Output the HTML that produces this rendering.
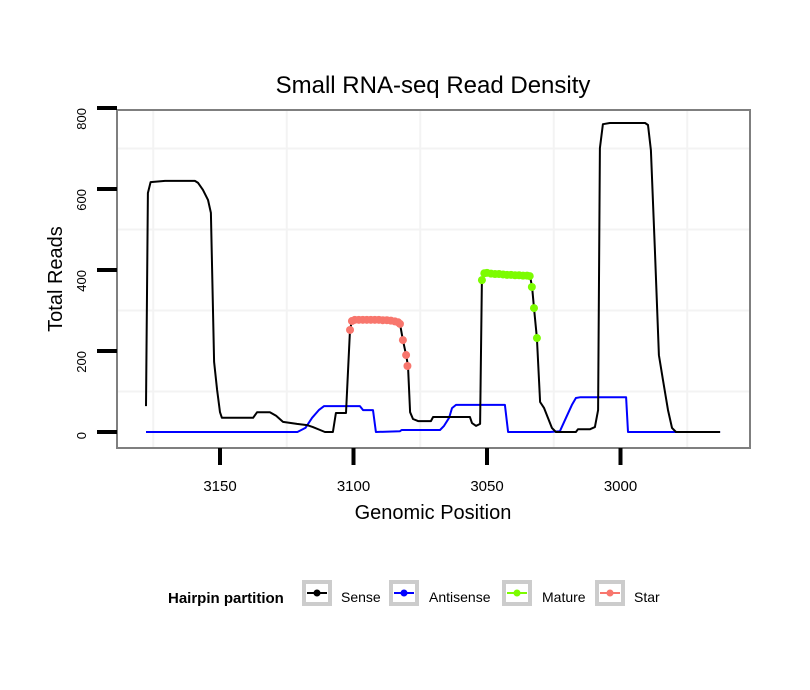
<!DOCTYPE html>
<html><head><meta charset="utf-8"><style>
body{margin:0;background:#fff}
svg{display:block;font-family:"Liberation Sans",sans-serif}
</style></head><body>
<svg id="chart" width="810" height="690">
<text x="433" y="93" font-size="24" text-anchor="middle">Small RNA-seq Read Density</text>
<rect x="117" y="110" width="633" height="338" fill="#fff"/>
<g id="grid"></g>
<g id="series"></g>
<rect x="117" y="110" width="633" height="338" fill="none" stroke="#7f7f7f" stroke-width="2"/>
<g id="axes"></g>
<text x="433" y="519" font-size="20" text-anchor="middle">Genomic Position</text>
<text transform="translate(62,279) rotate(-90)" font-size="20" text-anchor="middle">Total Reads</text>
<g>
<text x="168" y="603" font-size="15" font-weight="bold">Hairpin partition</text>
<g id="legend"></g>
</g>
</svg>
<script>
const sensePos=[3177.7,3177,3176,3170.6,3159.4,3158.2,3156.4,3154.5,3153.4,3152.2,3151.1,3150,3149.3,3137.6,3136.1,3131.3,3129,3126.4,3121.2,3117.4,3115.2,3112.5,3110.7,3107.7,3106.6,3102.8,3101.3,3100.6,3097.6,3084.5,3082.6,3081.5,3080.3,3079.6,3078.8,3077.7,3075.8,3071,3070.2,3064.6,3056.4,3055.6,3054.1,3052.6,3051.9,3050.7,3045.1,3033.9,3033.1,3032.4,3031.3,3030.1,3028.6,3027.2,3025.7,3024.2,3016.7,3015.9,3011.4,3009.6,3008.4,3007.7,3006.6,3004,2996.5,2990.8,2989.7,2988.6,2987.1,2985.6,2984.1,2982.2,2980.7,2979.2,2962.7];
const senseVal=[64,590,617,620,620,615,598,573,541,173,104,49,35,35,49,49,40,25,20,17,12,5,0,0,47,47,252,274,277,277,267,227,190,163,49,32,27,27,37,37,37,22,15,20,375,393,390,385,358,306,232,74,59,35,10,0,0,7,7,12,54,701,760,763,763,763,758,696,449,190,128,54,10,0,0];
const antiPos=[3177.7,3121,3118,3115.5,3113,3111,3097.6,3096.4,3092.7,3091.6,3082.6,3082,3067.6,3066.1,3064.2,3063.1,3061.6,3043.3,3042.1,3026.4,3022.7,3020.4,3018.2,3016.7,3015,2997.9,2997.2,2962.7];
const antiVal=[0,0,10,35,54,64,64,54,54,0,2,5,5,15,35,59,67,67,0,0,2,35,67,84,86,86,0,0];
const starPos=[3101.3,3100.6,3099.5,3098,3096.5,3095,3093.5,3092,3090.5,3089,3087.5,3086,3084.5,3083.3,3082.6,3081.5,3080.3,3079.8];
const starVal=[252,274,277,277,277,277,277,277,277,276,276,275,273,271,267,227,190,163];
const maturePos=[3051.9,3051,3050,3048.5,3047,3045.5,3044,3042.5,3041,3039.5,3038,3036.5,3035,3034,3033.2,3032.4,3031.3];
const matureVal=[375,392,393,391,390,390,389,388,388,387,387,386,386,385,358,306,232];
const xTicks=[3150,3100,3050,3000];
const yTicks=[0,200,400,600,800];
const xGrid=[3175,3125,3075,3025,2975];
const yGrid=[100,300,500,700];

const NS="http://www.w3.org/2000/svg";
const X=p=>220+(3150-p)*2.67;
const Y=v=>432-v*0.405;
function mk(tag,attrs,parent){const e=document.createElementNS(NS,tag);for(const k in attrs)e.setAttribute(k,attrs[k]);parent.appendChild(e);return e;}
const grid=document.getElementById('grid'),series=document.getElementById('series'),axes=document.getElementById('axes'),legend=document.getElementById('legend');
xGrid.forEach(p=>{const l=mk('line',{x1:X(p),x2:X(p),y1:110,y2:448,stroke:'#f3f3f3','stroke-width':2},grid);

});
yGrid.forEach(v=>{const l=mk('line',{x1:117,x2:750,y1:Y(v),y2:Y(v),stroke:'#f3f3f3','stroke-width':2},grid);

});
function line(pos,val,color,name){const d=pos.map((p,i)=>(i?'L':'M')+X(p).toFixed(1)+','+Y(val[i]).toFixed(1)).join('');
const e=mk('path',{d:d,fill:'none',stroke:color,'stroke-width':2,'stroke-linejoin':'round'},series);

}
line(antiPos,antiVal,'#0000ff','antisense-line');
line(sensePos,senseVal,'#000000','sense-line');
function dots(pos,val,color,name){pos.forEach((p,i)=>{const c=mk('circle',{cx:X(p),cy:Y(val[i]),r:4,fill:color},series);

});}
dots(starPos,starVal,'#f8766d','star-point');
dots(maturePos,matureVal,'#7cfc00','mature-point');
xTicks.forEach(p=>{const t=mk('line',{x1:X(p),x2:X(p),y1:448,y2:465,stroke:'#000','stroke-width':4},axes);


const tx=mk('text',{x:X(p),y:491,'font-size':15,'text-anchor':'middle'},axes);tx.textContent=p;

});
yTicks.forEach(v=>{const t=mk('line',{x1:97,x2:117,y1:Y(v),y2:Y(v),stroke:'#000','stroke-width':4},axes);


const tx=mk('text',{transform:`translate(86,${Y(v)}) rotate(-90)`,'font-size':13,'text-anchor':'end'},axes);tx.textContent=v;

});
const leg=[['Sense','#000',302,341],['Antisense','#0000ff',389,429],['Mature','#7cfc00',502,542],['Star','#f8766d',595,634]];
leg.forEach(([n,c,bx,tx])=>{const g=mk('g',{},legend);


mk('rect',{x:bx+2,y:582,width:26,height:22,fill:'#fff',stroke:'#cccccc','stroke-width':4},g);
mk('line',{x1:bx+5,x2:bx+25,y1:593,y2:593,stroke:c,'stroke-width':2},g);
mk('circle',{cx:bx+15,cy:593,r:3.5,fill:c},g);
const t=mk('text',{x:tx,y:602,'font-size':14},g);t.textContent=n;});
</script>
</body></html>
